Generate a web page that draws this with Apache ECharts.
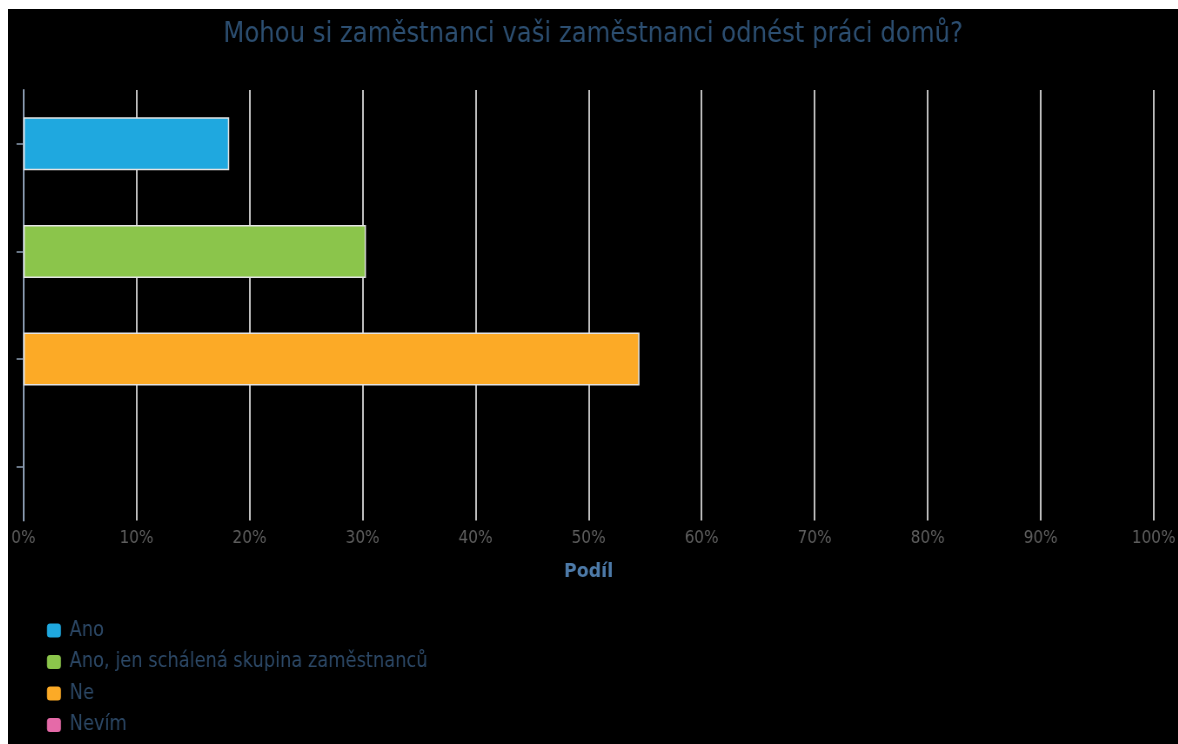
<!DOCTYPE html>
<html>
<head>
<meta charset="utf-8">
<script src="https://cdn.jsdelivr.net/npm/echarts@6/dist/echarts.min.js"></script>
<style>
  html, body { margin: 0; padding: 0; background: #ffffff; overflow: hidden; }
  #frame { position: absolute; left: 8px; top: 9px; width: 1170px; height: 735px; background: #000000; overflow: hidden; }
  /* the chart is laid out wider and squeezed horizontally to get its narrow, tall lettering */
  #chart { position: absolute; left: 0; top: 0; width: 1345px; height: 735px; transform: scaleX(0.87); transform-origin: 0 0; }
</style>
</head>
<body>
<div id="frame"><div id="chart"></div></div>
<script>
// Answers and their shares (percent of respondents)
const categories = ['Ano', 'Ano, jen schálená skupina zaměstnanců', 'Ne', 'Nevím'];
const shares = [18.2, 30.3, 54.5, 0];
const colors = ['#1fa8df', '#8bc54b', '#fcaa26', '#e56aa8'];
const xTicks = [0, 10, 20, 30, 40, 50, 60, 70, 80, 90, 100];

const font = '"DejaVu Sans", Verdana, sans-serif';

// One series per answer so each gets its own legend entry; stacked so every bar stays centred in its row
const series = categories.map((name, i) => ({
  name: name,
  type: 'bar',
  stack: 'all',
  barWidth: 53,
  data: categories.map((_, j) => (j === i && shares[i] > 0 ? shares[i] : '-')),
  itemStyle: { color: colors[i], borderColor: '#e4e4e4', borderWidth: 1.5 }
}));

const chart = echarts.init(document.getElementById('chart'));
chart.setOption({
  backgroundColor: '#000000',
  animation: false,
  color: colors,
  title: {
    text: 'Mohou si zaměstnanci vaši zaměstnanci odnést práci domů?',
    left: 'center',
    top: 7,
    textStyle: { color: '#2c4e70', fontFamily: font, fontSize: 28, fontWeight: 'normal' }
  },
  grid: { left: 17.8, right: 26.6, top: 81, bottom: 223.5 },
  xAxis: {
    type: 'value',
    min: xTicks[0],
    max: xTicks[xTicks.length - 1],
    interval: 10,
    name: 'Podíl',
    nameLocation: 'middle',
    nameGap: 41,
    nameTextStyle: { color: '#4d7aa8', fontFamily: font, fontSize: 20, fontWeight: 'bold' },
    axisLine: { show: false },
    axisTick: { show: false },
    axisLabel: {
      color: '#5e5e5e', fontFamily: font, fontSize: 17.6, margin: 9,
      formatter: v => v + '%'
    },
    splitLine: { show: true, lineStyle: { color: '#c0c0c0', width: 2 } }
  },
  yAxis: {
    type: 'category',
    data: categories,
    inverse: true,
    axisLine: { show: true, lineStyle: { color: '#8c9db3', width: 2 } },
    axisTick: { show: true, alignWithLabel: true, length: 8, lineStyle: { color: '#8c9db3', width: 1.5 } },
    axisLabel: { show: false },
    splitLine: { show: false }
  },
  legend: {
    orient: 'vertical',
    left: 39.8,
    top: 606,
    itemGap: 10.5,
    itemWidth: 16,
    itemHeight: 14,
    icon: 'roundRect',
    itemStyle: { borderWidth: 0 },
    data: categories,
    textStyle: { color: '#2c4866', fontFamily: font, fontSize: 20.5, padding: [0, 0, 0, 5] }
  },
  series: series
});
</script>
</body>
</html>
